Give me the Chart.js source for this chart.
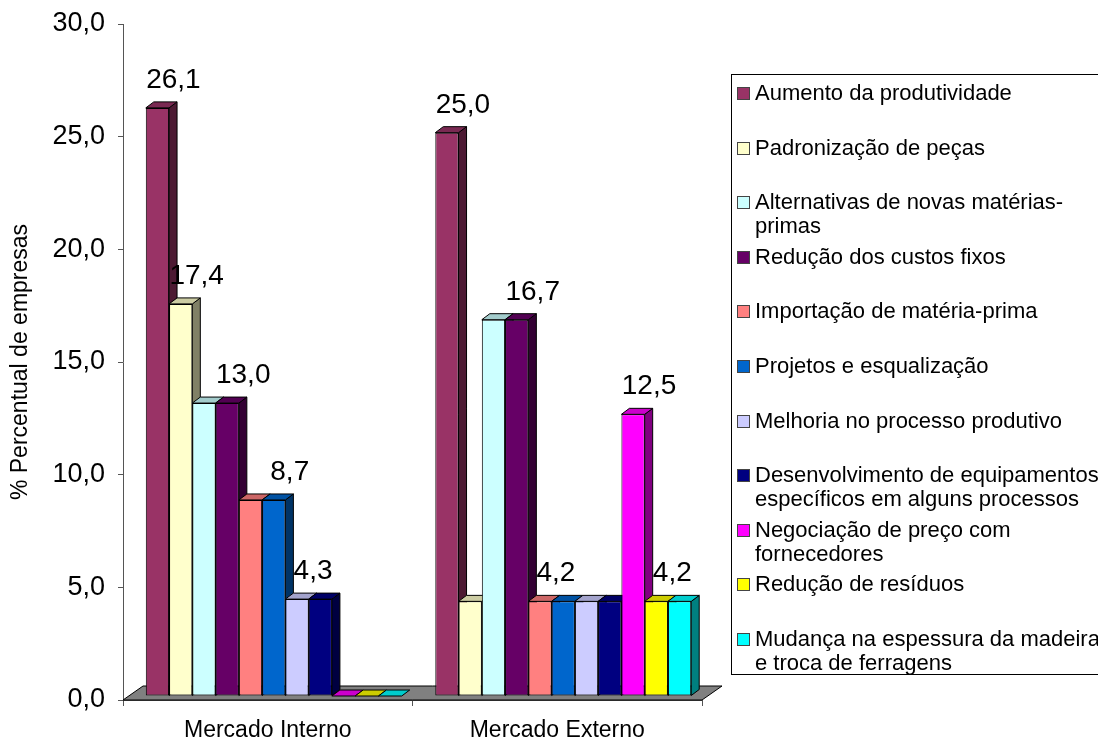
<!DOCTYPE html>
<html>
<head>
<meta charset="utf-8">
<title>Percentual de empresas</title>
<script src="https://cdn.jsdelivr.net/npm/chart.js@4"></script>
<style>
  html, body { margin: 0; padding: 0; background: #fff; overflow: hidden; }
  #wrap { position: relative; width: 1098px; height: 737px; }
  #legend {
    position: absolute; left: 731px; top: 74px; width: 420px; height: 601px;
    box-sizing: border-box; border: 1px solid #000; background: #fff;
    font-family: 'Liberation Sans', Arial, sans-serif; font-size: 22px; color: #000;
  }
  #legend .item { position: relative; height: 54.6px; padding: 6px 0 0 23px; box-sizing: border-box; line-height: 24px; white-space: pre; }
  #legend .box { position: absolute; left: 5px; top: 12px; width: 11px; height: 11px; border: 1px solid #444; }
</style>
</head>
<body>
<div id="wrap">
  <canvas id="grafico" width="1098" height="737"></canvas>
  <div id="legend"></div>
</div>
<script>
// categorias e séries
const categories = ["Mercado Interno", "Mercado Externo"];
const seriesNames = [
  "Aumento da produtividade",
  "Padronização de peças",
  "Alternativas de novas matérias-\nprimas",
  "Redução dos custos fixos",
  "Importação de matéria-prima",
  "Projetos e esqualização",
  "Melhoria no processo produtivo",
  "Desenvolvimento de equipamentos\nespecíficos em alguns processos",
  "Negociação de preço com\nfornecedores",
  "Redução de resíduos",
  "Mudança na espessura da madeira\ne troca de ferragens"
];
const seriesColors = [
  "#993366", "#FFFFCC", "#CCFFFF", "#660066", "#FF8080", "#0066CC",
  "#CCCCFF", "#000080", "#FF00FF", "#FFFF00", "#00FFFF"
];
const interno = [26.1, 17.4, 13.0, 13.0, 8.7, 8.7, 4.3, 4.3, 0, 0, 0];
const externo = [25.0, 4.2, 16.7, 16.7, 4.2, 4.2, 4.2, 4.2, 12.5, 4.2, 4.2];
// séries que levam rótulo de valor em cada categoria
const labeledInterno = [0, 1, 3, 5, 6];
const labeledExterno = [0, 3, 4, 8, 9];
const yMin = 0, yMax = 30, yStep = 5;

// efeito 3D
const DX = 8, DY = 6;          // profundidade da barra
const FLOOR_DX = 20, FLOOR_DY = 14;
const SHIFT_X = 6, SHIFT_Y = -4;

function shade(hex, f) {
  const n = parseInt(hex.slice(1), 16);
  const r = Math.round(((n >> 16) & 255) * f);
  const g = Math.round(((n >> 8) & 255) * f);
  const b = Math.round((n & 255) * f);
  return `rgb(${r},${g},${b})`;
}

function fmt(v) {
  return v.toFixed(1).replace(".", ",");
}

function poly(ctx, pts, fill) {
  ctx.beginPath();
  ctx.moveTo(pts[0][0], pts[0][1]);
  for (let k = 1; k < pts.length; k++) ctx.lineTo(pts[k][0], pts[k][1]);
  ctx.closePath();
  ctx.fillStyle = fill;
  ctx.fill();
  ctx.stroke();
}

const bar3d = {
  id: "bar3d",
  beforeDatasetsDraw(chart) {
    const ctx = chart.ctx;
    const { left, right, bottom } = chart.chartArea;
    // piso
    ctx.save();
    ctx.strokeStyle = "#000";
    ctx.lineWidth = 1;
    poly(ctx, [[left, bottom], [right, bottom], [right + FLOOR_DX, bottom - FLOOR_DY], [left + FLOOR_DX, bottom - FLOOR_DY]], "#808080");
    ctx.restore();

    ctx.save();
    ctx.translate(SHIFT_X, SHIFT_Y);
    ctx.strokeStyle = "#000";
    ctx.lineWidth = 1;
    categories.forEach((c, j) => {
      chart.data.datasets.forEach((ds, i) => {
        const bar = chart.getDatasetMeta(i).data[j];
        const { x, y, base, width } = bar.getProps(["x", "y", "base", "width"], true);
        const l = x - width / 2, r = x + width / 2;
        if (y < base) {
          poly(ctx, [[r, y], [r + DX, y - DY], [r + DX, base - DY], [r, base]], shade(ds.backgroundColor, 0.5));
        }
        poly(ctx, [[l, y], [r, y], [r + DX, y - DY], [l + DX, y - DY]], shade(ds.backgroundColor, 0.8));
      });
    });
  },
  afterDatasetsDraw(chart) {
    const ctx = chart.ctx;
    ctx.restore();
    // rótulos de valor
    ctx.save();
    ctx.font = "28px 'Liberation Sans', Arial, sans-serif";
    ctx.fillStyle = "#000";
    ctx.textAlign = "center";
    ctx.textBaseline = "alphabetic";
    [labeledInterno, labeledExterno].forEach((list, j) => {
      list.forEach(i => {
        const bar = chart.getDatasetMeta(i).data[j];
        const v = chart.data.datasets[i].data[j];
        ctx.fillText(fmt(v), bar.x + SHIFT_X + 16, bar.y + SHIFT_Y - 20);
      });
    });
    ctx.restore();
  }
};

const datasets = seriesNames.map((name, i) => ({
  label: name,
  data: [interno[i], externo[i]],
  backgroundColor: seriesColors[i],
  borderColor: "#000",
  borderWidth: c => (c.raw === 0 ? 0 : 1),
  borderSkipped: false,
  categoryPercentage: 0.884,
  barPercentage: 1
}));

Chart.defaults.font.family = "'Liberation Sans', Arial, sans-serif";
Chart.defaults.color = "#000";

const grafico = new Chart(document.getElementById("grafico").getContext("2d"), {
  type: "bar",
  data: { labels: categories, datasets },
  options: {
    responsive: false,
    animation: false,
    layout: { padding: { top: 24, right: 396, left: 0, bottom: 0 } },
    plugins: { legend: { display: false }, tooltip: { enabled: false } },
    scales: {
      x: {
        grid: { display: true, offset: true, drawOnChartArea: false, tickLength: 6, color: "#555" },
        border: { color: "#555" },
        ticks: { font: { size: 23 }, padding: 11, color: "#000" },
        afterFit: s => { s.height = 37; s.paddingLeft = 0; s.paddingRight = 0; }
      },
      y: {
        min: yMin, max: yMax,
        grid: { drawOnChartArea: false, tickLength: 5, color: "#555" },
        border: { color: "#555" },
        ticks: { stepSize: yStep, font: { size: 27 }, padding: 13, color: "#000", callback: v => fmt(v) },
        title: { display: true, text: "% Percentual de empresas", font: { size: 23 }, padding: { top: 7, bottom: 0 }, color: "#000" },
        afterFit: s => { s.width = 123; s.paddingTop = 0; s.paddingBottom = 0; }
      }
    }
  },
  plugins: [bar3d]
});

// legenda em HTML
const legend = document.getElementById("legend");
seriesNames.forEach((name, i) => {
  const item = document.createElement("div");
  item.className = "item";
  const box = document.createElement("span");
  box.className = "box";
  box.style.background = seriesColors[i];
  item.appendChild(box);
  item.appendChild(document.createTextNode(name));
  legend.appendChild(item);
});
</script>
</body>
</html>
